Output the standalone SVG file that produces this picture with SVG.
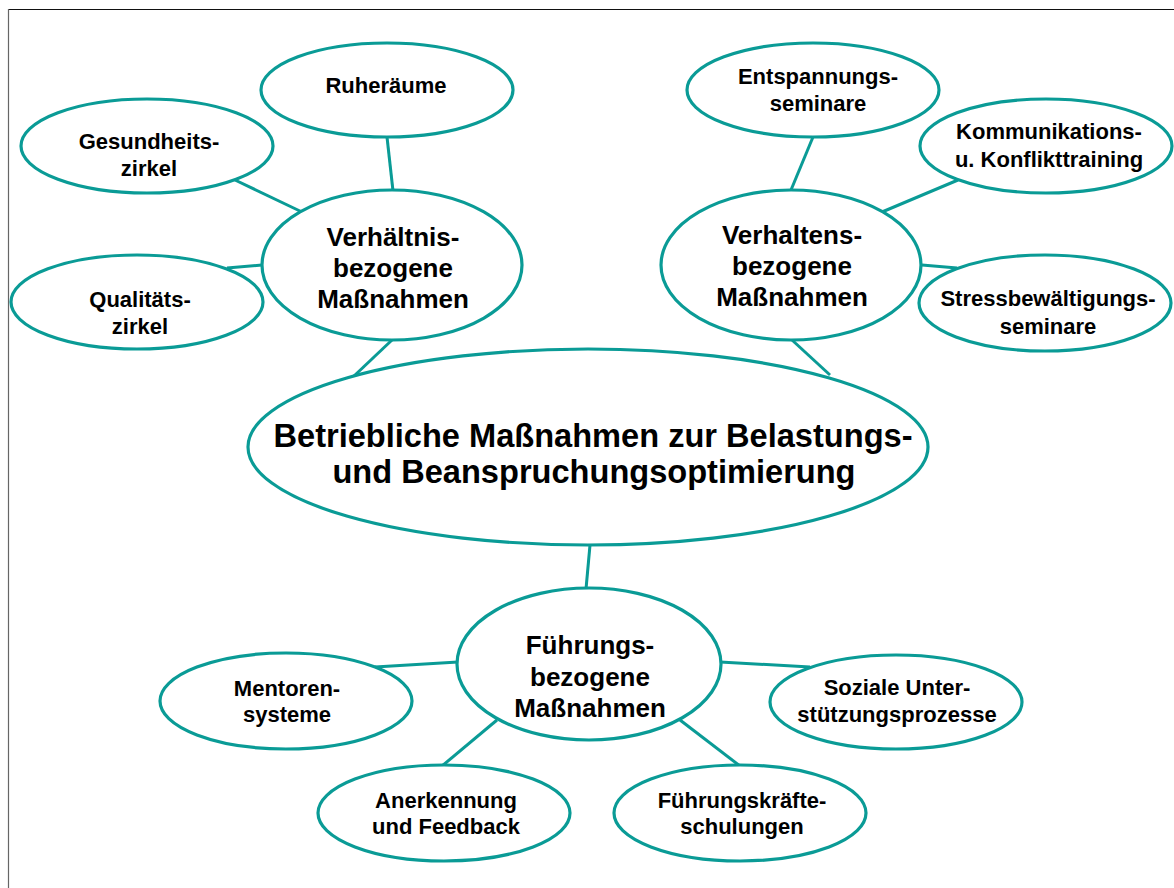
<svg xmlns="http://www.w3.org/2000/svg" width="1174" height="888" viewBox="0 0 1174 888">
<style>
.n{fill:#fff;stroke:#0A9B96;stroke-width:3.2}
.c line{stroke:#0A9B96;stroke-width:3;stroke-linecap:butt}
text{font-family:"Liberation Sans",Arial,sans-serif;font-weight:bold;fill:#000;text-anchor:middle}
.s{font-size:22px}
.m{font-size:26px}
.l{font-size:32.6px}
</style>
<rect x="0" y="0" width="1174" height="888" fill="#fff"/>
<line x1="8" y1="9.5" x2="1174" y2="9.5" stroke="#111" stroke-width="1.2"/>
<line x1="8.5" y1="9" x2="8.5" y2="888" stroke="#666" stroke-width="1.2"/>
<g id="connectors" class="c">
<line x1="387" y1="137" x2="393" y2="191"/>
<line x1="235" y1="180" x2="302" y2="212"/>
<line x1="227" y1="268" x2="262" y2="265"/>
<line x1="392" y1="340" x2="354" y2="376"/>
<line x1="813" y1="137" x2="791" y2="190"/>
<line x1="958" y1="180" x2="882" y2="212"/>
<line x1="922" y1="265" x2="957" y2="268"/>
<line x1="792" y1="340" x2="830" y2="375"/>
<line x1="590" y1="545" x2="586" y2="589"/>
<line x1="375" y1="667" x2="458" y2="662"/>
<line x1="720" y1="662" x2="810" y2="667"/>
<line x1="442" y1="766" x2="497" y2="720"/>
<line x1="740" y1="766" x2="680" y2="720"/>
</g>
<g id="ruheraeume"><ellipse class="n" cx="387" cy="90" rx="126" ry="47"/><text class="s" x="386" y="93">Ruheräume</text></g>
<g id="gesundheitszirkel"><ellipse class="n" cx="147" cy="146" rx="126" ry="47"/><text class="s" x="149" y="149">Gesundheits-</text><text class="s" x="149" y="176">zirkel</text></g>
<g id="qualitaetszirkel"><ellipse class="n" cx="137" cy="302" rx="126" ry="47"/><text class="s" x="140" y="307">Qualitäts-</text><text class="s" x="140" y="334">zirkel</text></g>
<g id="verhaeltnis"><ellipse class="n" cx="392" cy="265" rx="130" ry="75"/><text class="m" x="393" y="246">Verhältnis-</text><text class="m" x="393" y="277">bezogene</text><text class="m" x="393" y="308">Maßnahmen</text></g>
<g id="entspannung"><ellipse class="n" cx="813" cy="90" rx="126" ry="47"/><text class="s" x="818" y="84">Entspannungs-</text><text class="s" x="818" y="111">seminare</text></g>
<g id="kommunikation"><ellipse class="n" cx="1046" cy="146" rx="126" ry="47"/><text class="s" x="1049" y="139">Kommunikations-</text><text class="s" x="1049" y="167">u. Konflikttraining</text></g>
<g id="verhaltens"><ellipse class="n" cx="791" cy="265" rx="130" ry="75"/><text class="m" x="792" y="244">Verhaltens-</text><text class="m" x="792" y="275">bezogene</text><text class="m" x="792" y="306">Maßnahmen</text></g>
<g id="stress"><ellipse class="n" cx="1045" cy="303" rx="126" ry="48"/><text class="s" x="1048" y="306">Stressbewältigungs-</text><text class="s" x="1048" y="334">seminare</text></g>
<g id="central"><ellipse class="n" cx="588" cy="447" rx="340" ry="98"/><text class="l" x="593" y="447">Betriebliche Maßnahmen zur Belastungs-</text><text class="l" x="594" y="483">und Beanspruchungsoptimierung</text></g>
<g id="fuehrung"><ellipse class="n" cx="589" cy="664" rx="132" ry="76"/><text class="m" x="590" y="654">Führungs-</text><text class="m" x="590" y="686">bezogene</text><text class="m" x="590" y="717">Maßnahmen</text></g>
<g id="mentoren"><ellipse class="n" cx="286" cy="701" rx="126" ry="48"/><text class="s" x="287" y="696">Mentoren-</text><text class="s" x="287" y="722">systeme</text></g>
<g id="soziale"><ellipse class="n" cx="896" cy="702" rx="126" ry="47"/><text class="s" x="897" y="695">Soziale Unter-</text><text class="s" x="897" y="722">stützungsprozesse</text></g>
<g id="anerkennung"><ellipse class="n" cx="444" cy="813" rx="126" ry="48"/><text class="s" x="446" y="808">Anerkennung</text><text class="s" x="446" y="834">und Feedback</text></g>
<g id="fuehrungskraefte"><ellipse class="n" cx="740" cy="813" rx="126" ry="48"/><text class="s" x="742" y="808">Führungskräfte-</text><text class="s" x="742" y="834">schulungen</text></g>
</svg>
